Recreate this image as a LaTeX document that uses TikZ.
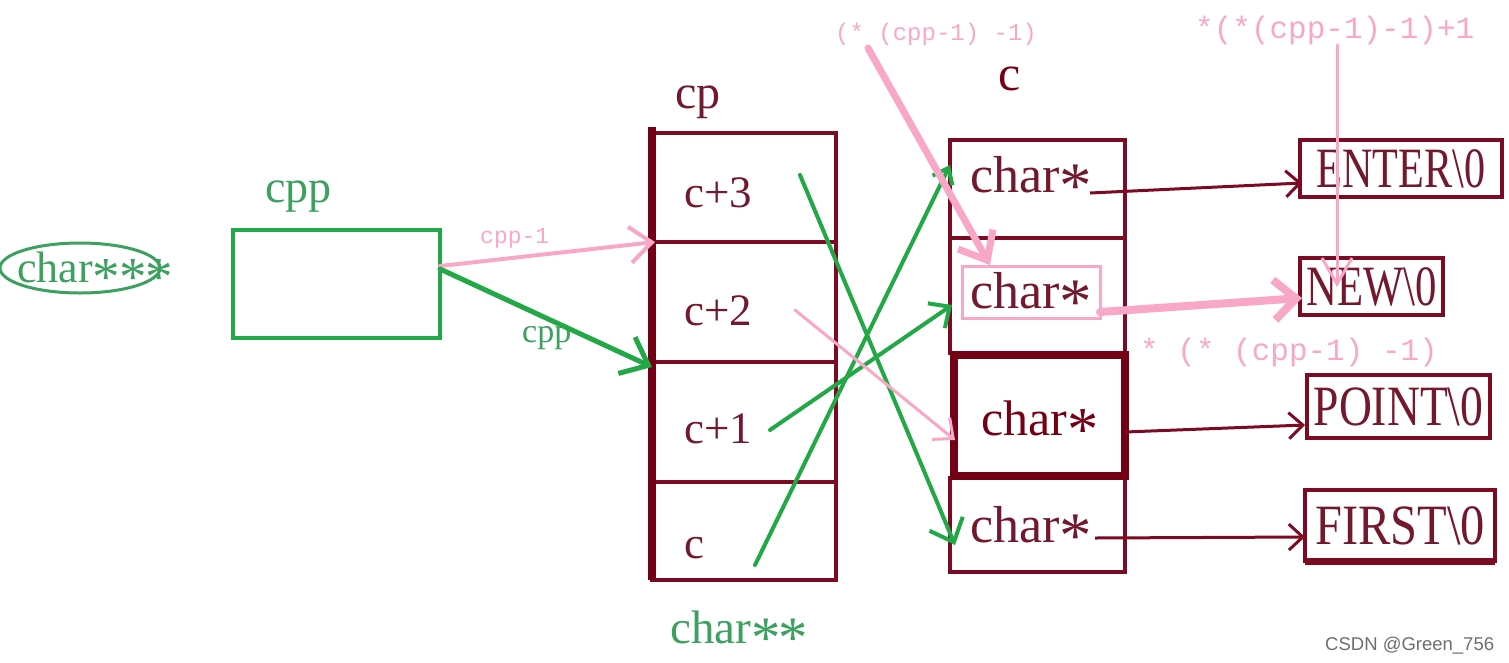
\documentclass[tikz,border=0pt]{standalone}
\usepackage{fontspec}
\setmainfont{Liberation Serif}
\setsansfont{Liberation Sans}
\setmonofont{Liberation Mono}
\usetikzlibrary{arrows.meta,shapes.geometric}
\definecolor{maroonc}{RGB}{125,10,35}
\definecolor{darkm}{RGB}{115,0,20}
\definecolor{mtext}{RGB}{115,25,45}
\definecolor{greenl}{RGB}{34,168,70}
\definecolor{greent}{RGB}{60,160,95}
\definecolor{pinkc}{RGB}{248,168,198}
\definecolor{wmgray}{RGB}{110,110,110}
\newcommand\fsz[1]{\fontsize{#1}{#1}\selectfont}
\newcommand\lst{\raisebox{-0.3em}[0.5em][0pt]{\scalebox{1.25}{*}}}
\begin{document}
\begin{tikzpicture}[x=1pt,y=-1pt,
  cell/.style={draw=maroonc,line width=4pt,inner sep=0pt,outer sep=0pt},
  strbox/.style={draw=maroonc,line width=4.5pt,inner sep=0pt,outer sep=0pt,text=mtext},
  lbl/.style={inner sep=0pt,anchor=base west},
  mline/.style={draw=maroonc,line width=3pt,-{Straight Barb[length=14pt,width=26pt]}},
  gline/.style={draw=greenl,line width=4pt,line cap=round},
  pline/.style={draw=pinkc,line cap=round}]
\useasboundingbox (0,0) rectangle (1509,662);
\fill[white] (0,0) rectangle (1509,662);

% ---- left part
\node[ellipse,draw=greent,line width=3pt,minimum width=160pt,minimum height=50pt,inner sep=0pt] (ell) at (80,268) {};
\node[lbl,text=greent] (c3star) at (17,282) {\fsz{44}char\lst\kern-1pt\lst\kern-1pt\lst};
\node[lbl,text=greent] (cpplbl) at (265,202) {\fsz{46}cpp};
\node[draw=greenl,line width=4pt,minimum width=207pt,minimum height=108pt,inner sep=0pt] (cppbox) at (336.5,284) {};

% ---- cp stack
\node[cell,minimum width=184pt,minimum height=109pt] (cp3) at (744,187.5) {};
\node[cell,minimum width=184pt,minimum height=120pt] (cp2) at (744,302) {};
\node[cell,minimum width=184pt,minimum height=120pt] (cp1) at (744,422) {};
\node[cell,minimum width=184pt,minimum height=98pt] (cp0) at (744,531) {};
\draw[darkm,line width=8pt] (cp3.north west) ++(0,-6) -- (cp0.south west);
\node[lbl,text=mtext] (tcp) at (675,108) {\fsz{48}cp};
\node[lbl,text=mtext] (t3) at (684,207) {\fsz{45}c+3};
\node[lbl,text=mtext] (t2) at (684,325) {\fsz{45}c+2};
\node[lbl,text=mtext] (t1) at (684,443) {\fsz{45}c+1};
\node[lbl,text=mtext] (t0) at (684,558) {\fsz{45}c};
\node[lbl,text=greent] (cc2) at (670,643) {\fsz{47}char\lst\kern-2pt\lst};

% ---- c stack
\node[cell,minimum width=175pt,minimum height=98pt] (r0) at (1037.5,189) {};
\node[cell,minimum width=175pt,minimum height=115pt] (r1) at (1037.5,295.5) {};
\node[cell,minimum width=175pt,minimum height=94pt] (r3) at (1037.5,525) {};
\node[cell,draw=darkm,line width=8pt,minimum width=171pt,minimum height=121pt] (r2) at (1039,415.5) {};
\node[lbl,text=darkm] (tc) at (998,90) {\fsz{50}c};
\node[lbl,text=mtext] (s0) at (970,192) {\fsz{52}char\lst};
\node[lbl,text=mtext] (s1) at (970,308) {\fsz{52}char\lst};
\node[lbl,text=darkm] (s2) at (981,435) {\fsz{50}char\lst};
\node[lbl,text=mtext] (s3) at (970,542) {\fsz{52}char\lst};
\node[draw=pinkc,line width=3pt,minimum width=138pt,minimum height=52pt,inner sep=0pt] (hl) at (1031,292) {};

% ---- strings
\node[strbox,minimum width=202pt,minimum height=57pt] (enter) at (1401,168.5) {\scalebox{0.74}[1]{\fsz{57}ENTER\textbackslash 0}};
\node[strbox,minimum width=143pt,minimum height=57pt] (new) at (1371.5,286.5) {\scalebox{0.75}[1]{\fsz{57}NEW\textbackslash 0}};
\node[strbox,minimum width=183pt,minimum height=63pt] (point) at (1398.5,406.5) {\scalebox{0.8}[1]{\fsz{57}POINT\textbackslash 0}};
\node[strbox,minimum width=190pt,minimum height=71pt] (first) at (1400,525.5) {\scalebox{0.85}[1]{\fsz{57}FIRST\textbackslash 0}};
\draw[maroonc,line width=7pt] (first.south west) -- (first.south east);

% ---- annotation texts
\node[lbl,text=pinkc] (a1) at (835,40) {\ttfamily\fsz{24}(* (cpp-1) -1)};
\node[lbl,text=pinkc] (a2) at (1195,38) {\ttfamily\fsz{31}*(*(cpp-1)-1)+1};
\node[lbl,text=pinkc] (a3) at (1140,360) {\ttfamily\fsz{31}* (* (cpp-1) -1)};
\node[lbl,text=pinkc] (a4) at (480,243) {\ttfamily\fsz{23}cpp-1};
\node[lbl,text=greent] (a5) at (522,342) {\fsz{34}cpp};
\node[lbl,text=wmgray] (wm) at (1325,650) {\sffamily\fsz{18.5}CSDN @Green\_756};

% ---- coordinates
\coordinate (p1s) at (440,266);
\coordinate (p1e) at (655,242);
\coordinate (g1s) at (440,269);
\coordinate (g1e) at (652,367);
\coordinate (g3s) at (800,175);
\coordinate (g3e) at (955,545);
\coordinate (gc1s) at (770,430);
\coordinate (gc1e) at (952,305);
\coordinate (gc0s) at (755,565);
\coordinate (gc0e) at (950,165);
\coordinate (pk2s) at (795,310);
\coordinate (pk2e) at (955,440);
\coordinate (pas) at (868,48);
\coordinate (pae) at (990,265);
\coordinate (pvs) at (1337,45);
\coordinate (pve) at (1337,287);
\coordinate (phs) at (1100,312);
\coordinate (phe) at (1302,298);
\coordinate (m0s) at (1090,193);
\coordinate (m0e) at (1302,183);
\coordinate (m2s) at (1125,432);
\coordinate (m2e) at (1305,425);
\coordinate (m3s) at (1095,538);
\coordinate (m3e) at (1305,537);

% ---- connectors
\draw[pline,line width=4pt,-{Straight Barb[length=22pt,width=36pt]}] (p1s) -- (p1e);
\draw[gline,line width=5pt,-{Straight Barb[length=24pt,width=40pt]}] (g1s) -- (g1e);
\draw[gline,-{Straight Barb[length=20pt,width=36pt]}] (g3s) -- (g3e);
\draw[gline,-{Straight Barb[length=16pt,width=30pt]}] (gc1s) -- (gc1e);
\draw[gline,-{Straight Barb[length=14pt,width=22pt]}] (gc0s) -- (gc0e);
\draw[pline,line width=3pt,-{Straight Barb[length=16pt,width=28pt]}] (pk2s) -- (pk2e);
\draw[pline,line width=7pt,-{Straight Barb[length=24pt,width=40pt]}] (pas) -- (pae);
\draw[pline,line width=3pt,-{Straight Barb[length=26pt,width=30pt]}] (pvs) -- (pve);
\draw[pline,line width=8pt,-{Straight Barb[length=22pt,width=40pt]}] (phs) -- (phe);
\draw[mline] (m0s) -- (m0e);
\draw[mline] (m2s) -- (m2e);
\draw[mline] (m3s) -- (m3e);
\end{tikzpicture}
\end{document}
